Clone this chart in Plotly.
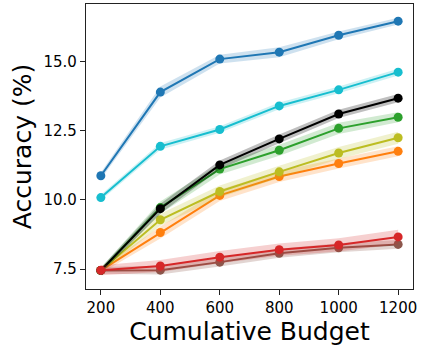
import plotly.graph_objects as go

budget = [200, 400, 600, 800, 1000, 1200]

# mean accuracy per method
acc_blue = [10.87, 13.89, 15.08, 15.33, 15.94, 16.45]
acc_cyan = [10.08, 11.93, 12.54, 13.39, 13.97, 14.61]
acc_black = [7.45, 9.68, 11.26, 12.20, 13.10, 13.67]
acc_green = [7.45, 9.72, 11.11, 11.79, 12.58, 12.98]
acc_olive = [7.45, 9.28, 10.30, 11.01, 11.69, 12.24]
acc_orange = [7.45, 8.82, 10.16, 10.84, 11.31, 11.75]
acc_red = [7.46, 7.61, 7.93, 8.20, 8.37, 8.66]
acc_brown = [7.45, 7.46, 7.75, 8.07, 8.27, 8.39]

# spread (std) per method
std_blue = [0.12, 0.20, 0.16, 0.18, 0.14, 0.12]
std_cyan = [0.10, 0.12, 0.12, 0.12, 0.12, 0.12]
std_black = [0.10, 0.18, 0.16, 0.16, 0.15, 0.15]
std_green = [0.10, 0.22, 0.20, 0.20, 0.20, 0.18]
std_olive = [0.10, 0.22, 0.22, 0.22, 0.22, 0.22]
std_orange = [0.10, 0.22, 0.20, 0.20, 0.18, 0.18]
std_red = [0.18, 0.22, 0.22, 0.22, 0.24, 0.26]
std_brown = [0.12, 0.16, 0.16, 0.16, 0.16, 0.16]

series = [
    (acc_orange, std_orange, '#ff7f0e', 'rgba(255,127,14,0.22)'),
    (acc_olive, std_olive, '#bcbd22', 'rgba(188,189,34,0.22)'),
    (acc_green, std_green, '#2ca02c', 'rgba(44,160,44,0.22)'),
    (acc_black, std_black, '#000000', 'rgba(0,0,0,0.25)'),
    (acc_brown, std_brown, '#8c564b', 'rgba(140,86,75,0.25)'),
    (acc_red, std_red, '#d62728', 'rgba(214,39,40,0.22)'),
    (acc_cyan, std_cyan, '#17becf', 'rgba(23,190,207,0.22)'),
    (acc_blue, std_blue, '#1f77b4', 'rgba(31,119,180,0.22)'),
]

fig = go.Figure()

for mean, std, color, fill in series:
    upper = [m + s for m, s in zip(mean, std)]
    lower = [m - s for m, s in zip(mean, std)]
    # shaded band
    fig.add_trace(go.Scatter(
        x=budget + budget[::-1],
        y=upper + lower[::-1],
        fill='toself', fillcolor=fill,
        line=dict(color='rgba(255,255,255,0)'),
        hoverinfo='skip', showlegend=False,
    ))
    fig.add_trace(go.Scatter(
        x=budget, y=mean, mode='lines+markers',
        line=dict(color=color, width=2),
        marker=dict(color=color, size=9),
        showlegend=False,
    ))

axis_common = dict(
    showline=True, linecolor='#222', linewidth=1.2, mirror=True,
    ticks='outside', ticklen=5, tickcolor='#222', showgrid=False, zeroline=False,
    tickfont=dict(family='DejaVu Sans', size=15, color='black'),
)

fig.update_layout(
    width=423, height=348,
    margin=dict(l=86, r=10, t=4, b=59),
    plot_bgcolor='white', paper_bgcolor='white',
    font=dict(family='DejaVu Sans', color='black'),
    xaxis=dict(range=[150, 1250], tickvals=budget,
               title=dict(text='Cumulative Budget', font=dict(size=25), standoff=2),
               **axis_common),
    yaxis=dict(range=[6.78, 17.07], tickvals=[7.5, 10.0, 12.5, 15.0], tickformat='.1f',
               title=dict(text='Accuracy (%)', font=dict(size=25), standoff=4),
               **axis_common),
)

# page body has a default margin; drop it so the figure fills the window
fig.write_html("out.html", config={'displayModeBar': False},
               post_script="document.body.style.margin='0';")
